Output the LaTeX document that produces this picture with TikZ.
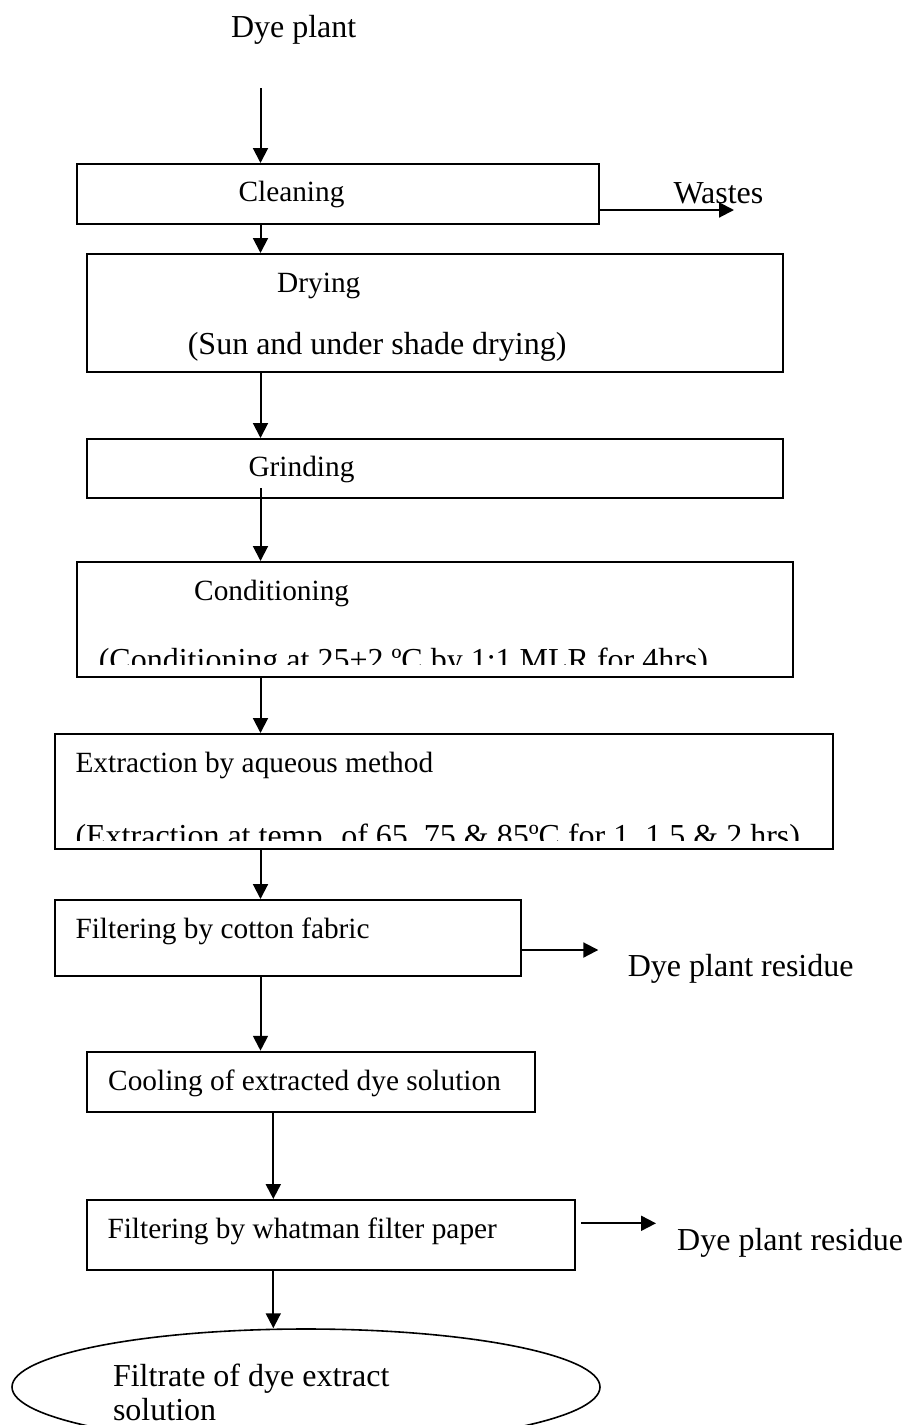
\documentclass[tikz,border=0pt]{standalone}
\usepackage{fontspec}
\setmainfont{Liberation Serif}
\usepackage{tikz}
\usetikzlibrary{arrows.meta,shapes.geometric,calc}

\newcommand{\pxl}{0.375pt}
\tikzset{
  box/.style 2 args={draw, line width=0.75pt, inner sep=0pt, minimum width=#1*\pxl, minimum height=#2*\pxl},
  endnode/.style={draw, ellipse, line width=0.6pt, inner sep=0pt, minimum width=588*\pxl, minimum height=116*\pxl},
  arr/.style={line width=0.75pt, -{Triangle[length=5.6pt,width=5.6pt]}},
  note/.style={anchor=base west, inner sep=0pt, font=\fontsize{11}{13}\selectfont},
  bignote/.style={note, font=\fontsize{12}{14}\selectfont},
}

\begin{document}
\begin{tikzpicture}[x=0.375pt, y=-0.375pt]
	\useasboundingbox (0,0) rectangle (904,1425);
	\clip (0,0) rectangle (904,1425);

	% Nodes
	\node[bignote] (dye) at (230.5,37) {Dye plant};

	\node[box={522}{60}] (clean) at (338,194) {};
	\node[note] (cleantxt) at (238,201.7) {Cleaning};
	\node[bignote] (waste) at (673,203) {Wastes};

	\node[box={696}{118}] (dry) at (435,313) {};
	\node[note] (drytxt) at (276.7,292.7) {Drying};
	\node[bignote] (drysub) at (187.3,354) {(Sun and under shade drying)};

	\node[box={696}{59}] (grind) at (435,468.5) {};
	\node[note] (grindtxt) at (248,476.7) {Grinding};

	\node[box={716}{115}] (cond) at (435,619.5) {};
	\node[note] (condtxt) at (193.7,600.7) {Conditioning};
	\begin{scope}
		\clip (60,610) rectangle (800,664.5);
		\node[bignote] (condsub) at (98.3,670) {(Conditioning at 25+2 ºC by 1:1 MLR for 4hrs)};
	\end{scope}

	\node[box={778}{115}] (extr) at (444,791.5) {};
	\node[note] (extrtxt) at (75,772) {Extraction by aqueous method};
	\begin{scope}
		\clip (40,790) rectangle (830,840);
		\node[bignote] (extrsub) at (75,846) {(Extraction at temp. of 65, 75 \& 85ºC for 1, 1.5 \& 2 hrs)};
	\end{scope}

	\node[box={466}{76}] (filt) at (287.7,938) {};
	\node[note] (filttxt) at (75,938.3) {Filtering by cotton fabric};
	\node[bignote] (res1) at (627.3,976) {Dye plant residue};

	\node[box={448.5}{60}] (cool) at (310.8,1081.7) {};
	\node[note] (cooltxt) at (107.7,1090) {Cooling of extracted dye solution};

	\node[box={488.5}{70}] (what) at (330.8,1235) {};
	\node[note] (whattxt) at (107,1238.3) {Filtering by whatman filter paper};
	\node[bignote] (res2) at (676.7,1250) {Dye plant residue};

	\node[endnode] (fin) at (306,1387) {};
	\node[bignote] (fintxt) at (112.5,1386) {Filtrate of dye extract};
	\node[bignote] (fintxt2) at (112.5,1420) {solution};

	% Free ends
	\coordinate (ax) at (260.5,88);
	\coordinate (bx) at (273.3,0);
	\coordinate (wst) at (734,210);
	\coordinate (res1end) at (598.3,950);
	\coordinate (res2end) at (656,1223.3);

	% Main flow
	\draw[arr] (ax) -- (ax |- clean.north);
	\draw[arr] (ax |- clean.south) -- (ax |- dry.north);
	\draw[arr] (ax |- dry.south) -- (ax |- grind.north);
	\draw[arr] ($(ax |- grind.south)+(0,-11)$) -- (ax |- cond.north);
	\draw[arr] (ax |- cond.south) -- (ax |- extr.north);
	\draw[arr] (ax |- extr.south) -- (ax |- filt.north);
	\draw[arr] (ax |- filt.south) -- (ax |- cool.north);
	\draw[arr] (bx |- cool.south) -- (bx |- what.north);
	\draw[arr] (bx |- what.south) -- (bx |- fin.north);

	% Side outputs
	\draw[arr] (clean.east |- wst) -- (wst);
	\draw[arr] (filt.east |- res1end) -- (res1end);
	\draw[arr] ($(what.east |- res2end)+(5,0)$) -- (res2end);

\end{tikzpicture}
\end{document}
